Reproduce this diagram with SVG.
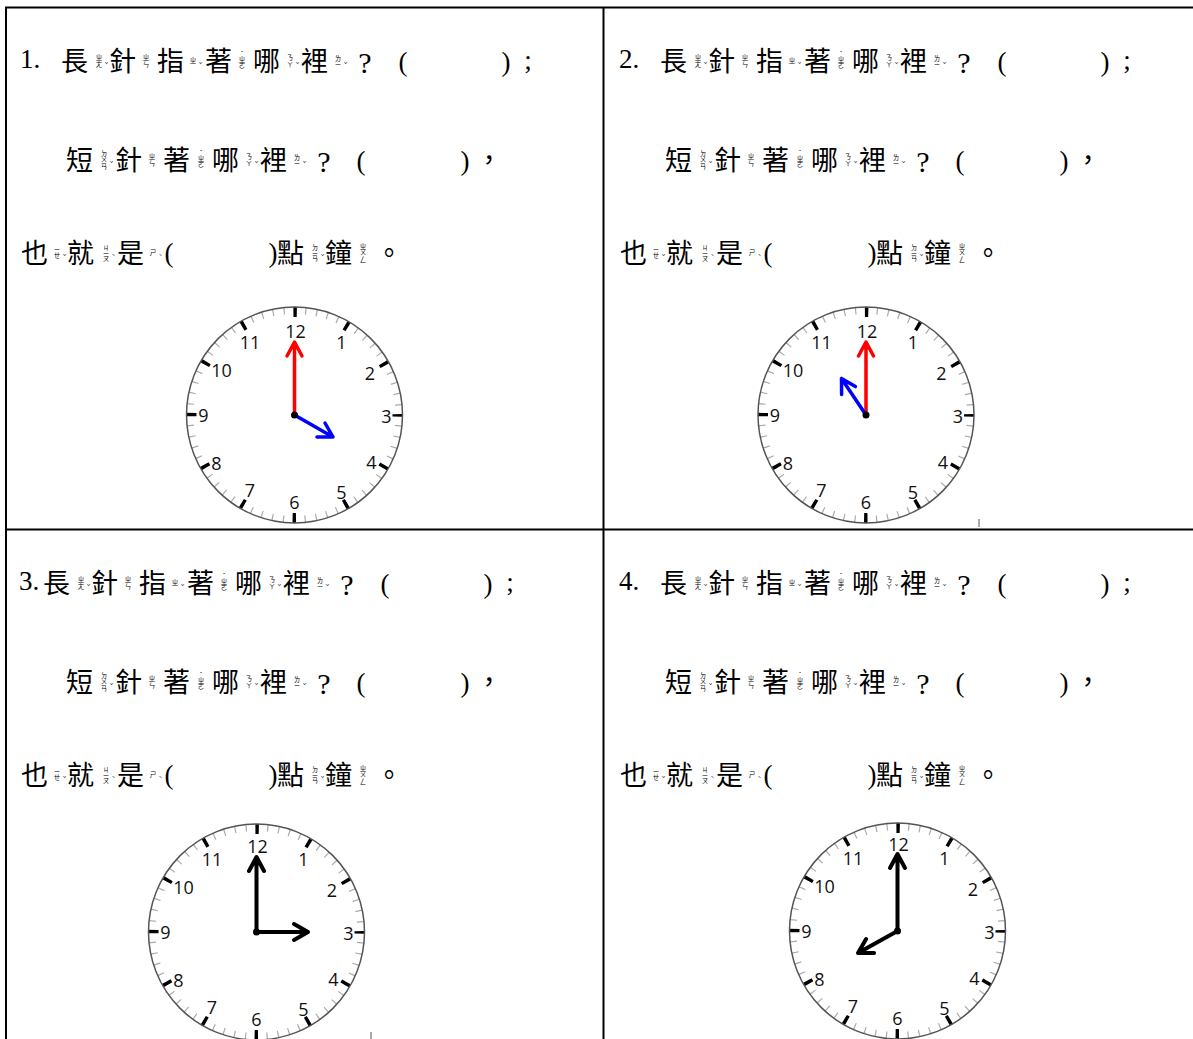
<svg xmlns="http://www.w3.org/2000/svg" xmlns:xlink="http://www.w3.org/1999/xlink" width="1193" height="1039" viewBox="0 0 1193 1039">
<style>
.z{font-family:"Noto Sans CJK TC","Noto Sans CJK SC",sans-serif;font-size:27px;fill:#000}
.v{font-family:"Noto Sans CJK TC","Noto Sans CJK SC",sans-serif;font-size:6.5px;writing-mode:vertical-rl;text-anchor:middle;fill:#000}
.t{font-family:"Noto Sans CJK TC","Noto Sans CJK SC",sans-serif;font-size:6px;text-anchor:middle;fill:#000}
.p{font-family:"Liberation Serif",serif;font-size:27px;text-anchor:middle;fill:#000}
.qm{font-family:"Liberation Serif",serif;font-size:30px;text-anchor:middle;fill:#000}
.f{font-family:"Noto Sans CJK TC","Noto Sans CJK SC",sans-serif;font-size:27px;text-anchor:middle;fill:#000}
.q{font-family:"Liberation Serif",serif;font-size:27px;fill:#000}
.n{font-family:"Open Sans","Noto Sans",sans-serif;font-size:18px;text-anchor:middle;fill:#111}
.grid{stroke:#000;stroke-width:2;fill:none}
.red{stroke:#f00;stroke-width:3.5;fill:none;stroke-linecap:round;stroke-linejoin:round}
.blue{stroke:#00f;stroke-width:3.5;fill:none;stroke-linecap:round;stroke-linejoin:round}
.blk{stroke:#000;stroke-width:4;fill:none;stroke-linecap:round;stroke-linejoin:round}
.mark{stroke:#555;stroke-width:1}
</style>
<defs>
<g id="face">
<circle r="108" fill="#fff"/>
<circle r="104.5" fill="none" stroke="#aaa" stroke-width="7" stroke-dasharray="1.2 9.743" stroke-dashoffset="0.6"/>
<circle r="103" fill="none" stroke="#000" stroke-width="10" stroke-dasharray="3.5 50.43" stroke-dashoffset="1.75"/>
<circle r="108" fill="none" stroke="#555" stroke-width="1.5"/>
</g>
</defs>
<rect width="1193" height="1039" fill="#fff"/>
<g id="grid">
<path class="grid" d="M5 7.5H1193M6 7V1039M603.5 7V1039M5 529.5H1193"/>
<path class="mark" d="M979 519V527M371 1032V1039"/>
</g>

<g id="q1">
<text class="q" x="20" y="68">1.</text>
<text class="z" x="61" y="71">長</text><text class="v" x="99" y="61">ㄓㄤ</text><text class="t" x="106.5" y="67">ˇ</text>
<text class="z" x="109" y="71">針</text><text class="v" x="146" y="61">ㄓㄣ</text>
<text class="z" x="157" y="71">指</text><text class="v" x="193" y="61">ㄓ</text><text class="t" x="200.5" y="67">ˇ</text>
<text class="z" x="205" y="71">著</text><text class="t" x="242" y="54">˙</text><text class="v" x="242" y="62.5">ㄓㄜ</text>
<text class="z" x="253" y="71">哪</text><text class="v" x="290" y="61">ㄋㄚ</text><text class="t" x="297.5" y="67">ˇ</text>
<text class="z" x="301" y="71">裡</text><text class="v" x="338" y="61">ㄌㄧ</text><text class="t" x="345.5" y="67">ˇ</text>
<text class="qm" x="365" y="73">?</text><text class="p" x="403" y="71">(</text><text class="p" x="506" y="71">)</text><text class="p" x="528" y="69">;</text>

<text class="z" x="66" y="170">短</text><text class="v" x="104" y="160">ㄉㄨㄢ</text><text class="t" x="111.5" y="166">ˇ</text>
<text class="z" x="115" y="170">針</text><text class="v" x="152" y="160">ㄓㄣ</text>
<text class="z" x="163" y="170">著</text><text class="t" x="201" y="153">˙</text><text class="v" x="201" y="161.5">ㄓㄜ</text>
<text class="z" x="212" y="170">哪</text><text class="v" x="249" y="160">ㄋㄚ</text><text class="t" x="256.5" y="166">ˇ</text>
<text class="z" x="260" y="170">裡</text><text class="v" x="297" y="160">ㄌㄧ</text><text class="t" x="304.5" y="166">ˇ</text>
<text class="qm" x="324" y="172">?</text><text class="p" x="361" y="170">(</text><text class="p" x="465" y="170">)</text><text class="f" x="489" y="170">，</text>

<text class="z" x="21" y="263">也</text><text class="v" x="57" y="253">ㄧㄝ</text><text class="t" x="64.5" y="259">ˇ</text>
<text class="z" x="67" y="263">就</text><text class="v" x="106" y="253">ㄐㄧㄡ</text><text class="t" x="113.5" y="259">ˋ</text>
<text class="z" x="117" y="263">是</text><text class="v" x="153" y="253">ㄕ</text><text class="t" x="160.5" y="259">ˋ</text>
<text class="p" x="169" y="262">(</text><text class="p" x="273" y="262">)</text>
<text class="z" x="277" y="263">點</text><text class="v" x="315" y="253">ㄉㄧㄢ</text><text class="t" x="322.5" y="259">ˇ</text>
<text class="z" x="325" y="263">鐘</text><text class="v" x="363" y="253">ㄓㄨㄥ</text>
<text class="f" x="389" y="263">。</text>
</g>

<g id="q2" transform="translate(599,0)">
<text class="q" x="20" y="68">2.</text>
<text class="z" x="61" y="71">長</text><text class="v" x="99" y="61">ㄓㄤ</text><text class="t" x="106.5" y="67">ˇ</text>
<text class="z" x="109" y="71">針</text><text class="v" x="146" y="61">ㄓㄣ</text>
<text class="z" x="157" y="71">指</text><text class="v" x="193" y="61">ㄓ</text><text class="t" x="200.5" y="67">ˇ</text>
<text class="z" x="205" y="71">著</text><text class="t" x="242" y="54">˙</text><text class="v" x="242" y="62.5">ㄓㄜ</text>
<text class="z" x="253" y="71">哪</text><text class="v" x="290" y="61">ㄋㄚ</text><text class="t" x="297.5" y="67">ˇ</text>
<text class="z" x="301" y="71">裡</text><text class="v" x="338" y="61">ㄌㄧ</text><text class="t" x="345.5" y="67">ˇ</text>
<text class="qm" x="365" y="73">?</text><text class="p" x="403" y="71">(</text><text class="p" x="506" y="71">)</text><text class="p" x="528" y="69">;</text>

<text class="z" x="66" y="170">短</text><text class="v" x="104" y="160">ㄉㄨㄢ</text><text class="t" x="111.5" y="166">ˇ</text>
<text class="z" x="115" y="170">針</text><text class="v" x="152" y="160">ㄓㄣ</text>
<text class="z" x="163" y="170">著</text><text class="t" x="201" y="153">˙</text><text class="v" x="201" y="161.5">ㄓㄜ</text>
<text class="z" x="212" y="170">哪</text><text class="v" x="249" y="160">ㄋㄚ</text><text class="t" x="256.5" y="166">ˇ</text>
<text class="z" x="260" y="170">裡</text><text class="v" x="297" y="160">ㄌㄧ</text><text class="t" x="304.5" y="166">ˇ</text>
<text class="qm" x="324" y="172">?</text><text class="p" x="361" y="170">(</text><text class="p" x="465" y="170">)</text><text class="f" x="489" y="170">，</text>

<text class="z" x="21" y="263">也</text><text class="v" x="57" y="253">ㄧㄝ</text><text class="t" x="64.5" y="259">ˇ</text>
<text class="z" x="67" y="263">就</text><text class="v" x="106" y="253">ㄐㄧㄡ</text><text class="t" x="113.5" y="259">ˋ</text>
<text class="z" x="117" y="263">是</text><text class="v" x="153" y="253">ㄕ</text><text class="t" x="160.5" y="259">ˋ</text>
<text class="p" x="169" y="262">(</text><text class="p" x="273" y="262">)</text>
<text class="z" x="277" y="263">點</text><text class="v" x="315" y="253">ㄉㄧㄢ</text><text class="t" x="322.5" y="259">ˇ</text>
<text class="z" x="325" y="263">鐘</text><text class="v" x="363" y="253">ㄓㄨㄥ</text>
<text class="f" x="389" y="263">。</text>
</g>

<g id="q3" transform="translate(0,522)">
<text class="q" x="19" y="68">3.</text>
<text class="z" x="43" y="71">長</text><text class="v" x="81" y="61">ㄓㄤ</text><text class="t" x="88.5" y="67">ˇ</text>
<text class="z" x="91" y="71">針</text><text class="v" x="128" y="61">ㄓㄣ</text>
<text class="z" x="139" y="71">指</text><text class="v" x="175" y="61">ㄓ</text><text class="t" x="182.5" y="67">ˇ</text>
<text class="z" x="187" y="71">著</text><text class="t" x="224" y="54">˙</text><text class="v" x="224" y="62.5">ㄓㄜ</text>
<text class="z" x="235" y="71">哪</text><text class="v" x="272" y="61">ㄋㄚ</text><text class="t" x="279.5" y="67">ˇ</text>
<text class="z" x="283" y="71">裡</text><text class="v" x="320" y="61">ㄌㄧ</text><text class="t" x="327.5" y="67">ˇ</text>
<text class="qm" x="347" y="73">?</text><text class="p" x="385" y="71">(</text><text class="p" x="488" y="71">)</text><text class="p" x="510" y="69">;</text>

<text class="z" x="66" y="170">短</text><text class="v" x="104" y="160">ㄉㄨㄢ</text><text class="t" x="111.5" y="166">ˇ</text>
<text class="z" x="115" y="170">針</text><text class="v" x="152" y="160">ㄓㄣ</text>
<text class="z" x="163" y="170">著</text><text class="t" x="201" y="153">˙</text><text class="v" x="201" y="161.5">ㄓㄜ</text>
<text class="z" x="212" y="170">哪</text><text class="v" x="249" y="160">ㄋㄚ</text><text class="t" x="256.5" y="166">ˇ</text>
<text class="z" x="260" y="170">裡</text><text class="v" x="297" y="160">ㄌㄧ</text><text class="t" x="304.5" y="166">ˇ</text>
<text class="qm" x="324" y="172">?</text><text class="p" x="361" y="170">(</text><text class="p" x="465" y="170">)</text><text class="f" x="489" y="170">，</text>

<text class="z" x="21" y="263">也</text><text class="v" x="57" y="253">ㄧㄝ</text><text class="t" x="64.5" y="259">ˇ</text>
<text class="z" x="67" y="263">就</text><text class="v" x="106" y="253">ㄐㄧㄡ</text><text class="t" x="113.5" y="259">ˋ</text>
<text class="z" x="117" y="263">是</text><text class="v" x="153" y="253">ㄕ</text><text class="t" x="160.5" y="259">ˋ</text>
<text class="p" x="169" y="262">(</text><text class="p" x="273" y="262">)</text>
<text class="z" x="277" y="263">點</text><text class="v" x="315" y="253">ㄉㄧㄢ</text><text class="t" x="322.5" y="259">ˇ</text>
<text class="z" x="325" y="263">鐘</text><text class="v" x="363" y="253">ㄓㄨㄥ</text>
<text class="f" x="389" y="263">。</text>
</g>

<g id="q4" transform="translate(599,522)">
<text class="q" x="20" y="68">4.</text>
<text class="z" x="61" y="71">長</text><text class="v" x="99" y="61">ㄓㄤ</text><text class="t" x="106.5" y="67">ˇ</text>
<text class="z" x="109" y="71">針</text><text class="v" x="146" y="61">ㄓㄣ</text>
<text class="z" x="157" y="71">指</text><text class="v" x="193" y="61">ㄓ</text><text class="t" x="200.5" y="67">ˇ</text>
<text class="z" x="205" y="71">著</text><text class="t" x="242" y="54">˙</text><text class="v" x="242" y="62.5">ㄓㄜ</text>
<text class="z" x="253" y="71">哪</text><text class="v" x="290" y="61">ㄋㄚ</text><text class="t" x="297.5" y="67">ˇ</text>
<text class="z" x="301" y="71">裡</text><text class="v" x="338" y="61">ㄌㄧ</text><text class="t" x="345.5" y="67">ˇ</text>
<text class="qm" x="365" y="73">?</text><text class="p" x="403" y="71">(</text><text class="p" x="506" y="71">)</text><text class="p" x="528" y="69">;</text>

<text class="z" x="66" y="170">短</text><text class="v" x="104" y="160">ㄉㄨㄢ</text><text class="t" x="111.5" y="166">ˇ</text>
<text class="z" x="115" y="170">針</text><text class="v" x="152" y="160">ㄓㄣ</text>
<text class="z" x="163" y="170">著</text><text class="t" x="201" y="153">˙</text><text class="v" x="201" y="161.5">ㄓㄜ</text>
<text class="z" x="212" y="170">哪</text><text class="v" x="249" y="160">ㄋㄚ</text><text class="t" x="256.5" y="166">ˇ</text>
<text class="z" x="260" y="170">裡</text><text class="v" x="297" y="160">ㄌㄧ</text><text class="t" x="304.5" y="166">ˇ</text>
<text class="qm" x="324" y="172">?</text><text class="p" x="361" y="170">(</text><text class="p" x="465" y="170">)</text><text class="f" x="489" y="170">，</text>

<text class="z" x="21" y="263">也</text><text class="v" x="57" y="253">ㄧㄝ</text><text class="t" x="64.5" y="259">ˇ</text>
<text class="z" x="67" y="263">就</text><text class="v" x="106" y="253">ㄐㄧㄡ</text><text class="t" x="113.5" y="259">ˋ</text>
<text class="z" x="117" y="263">是</text><text class="v" x="153" y="253">ㄕ</text><text class="t" x="160.5" y="259">ˋ</text>
<text class="p" x="169" y="262">(</text><text class="p" x="273" y="262">)</text>
<text class="z" x="277" y="263">點</text><text class="v" x="315" y="253">ㄉㄧㄢ</text><text class="t" x="322.5" y="259">ˇ</text>
<text class="z" x="325" y="263">鐘</text><text class="v" x="363" y="253">ㄓㄨㄥ</text>
<text class="f" x="389" y="263">。</text>
</g>

<g id="clock1">
<use xlink:href="#face" x="294.5" y="415"/>
<text class="n" x="295.5" y="337.5">12</text><text class="n" x="341.5" y="348.5">1</text><text class="n" x="370" y="379.5">2</text><text class="n" x="386.5" y="422.5">3</text>
<text class="n" x="371.5" y="468.5">4</text><text class="n" x="341.5" y="498.5">5</text><text class="n" x="294.5" y="508.5">6</text><text class="n" x="250" y="496.5">7</text>
<text class="n" x="216.5" y="469.5">8</text><text class="n" x="203.5" y="421.5">9</text><text class="n" x="221.5" y="376.5">10</text><text class="n" x="250" y="348.5">11</text>
<path class="red" d="M294.5 415V343M287 356L294.5 342L302 356"/>
<path class="blue" d="M294.5 415L333 437M317 437L333 437L325 423"/>
<circle cx="294.5" cy="415" r="3.5"/>
</g>

<g id="clock2">
<use xlink:href="#face" x="866" y="415"/>
<text class="n" x="867" y="337.5">12</text><text class="n" x="913" y="348.5">1</text><text class="n" x="941.5" y="379.5">2</text><text class="n" x="958" y="422.5">3</text>
<text class="n" x="943" y="468.5">4</text><text class="n" x="913" y="498.5">5</text><text class="n" x="866" y="508.5">6</text><text class="n" x="821.5" y="496.5">7</text>
<text class="n" x="788" y="469.5">8</text><text class="n" x="775" y="421.5">9</text><text class="n" x="793" y="376.5">10</text><text class="n" x="821.5" y="348.5">11</text>
<path class="red" d="M866 415V343M858.5 356L866 342L873.5 356"/>
<path class="blue" d="M866 415L841.5 378.5M855.4 386.6L841.5 378.5L841.6 394.6"/>
<circle cx="866" cy="415" r="3.5"/>
</g>

<g id="clock3">
<use xlink:href="#face" x="256.5" y="932"/>
<text class="n" x="257.5" y="852.5">12</text><text class="n" x="303.5" y="865.5">1</text><text class="n" x="332" y="896.5">2</text><text class="n" x="348.5" y="939.5">3</text>
<text class="n" x="333.5" y="985.5">4</text><text class="n" x="303.5" y="1015.5">5</text><text class="n" x="256.5" y="1025.5">6</text><text class="n" x="212" y="1013.5">7</text>
<text class="n" x="178.5" y="986.5">8</text><text class="n" x="165.5" y="938.5">9</text><text class="n" x="183.5" y="893.5">10</text><text class="n" x="212" y="865.5">11</text>
<path class="blk" d="M256.5 932V858M249 871L256.5 857L264 871"/>
<path class="blk" d="M256.5 932H308M294 924L308 932L294 940"/>
<circle cx="256.5" cy="932" r="3.5"/>
</g>

<g id="clock4">
<use xlink:href="#face" x="897.5" y="931"/>
<text class="n" x="898.5" y="851">12</text><text class="n" x="944.5" y="864.5">1</text><text class="n" x="973" y="895.5">2</text><text class="n" x="989.5" y="938.5">3</text>
<text class="n" x="974.5" y="984.5">4</text><text class="n" x="944.5" y="1014.5">5</text><text class="n" x="897.5" y="1024.5">6</text><text class="n" x="853" y="1012.5">7</text>
<text class="n" x="819.5" y="985.5">8</text><text class="n" x="806.5" y="937.5">9</text><text class="n" x="824.5" y="892.5">10</text><text class="n" x="853" y="864.5">11</text>
<path class="blk" d="M897.5 931V855M890 868L897.5 854L905 868"/>
<path class="blk" d="M897.5 931L858 953M874.1 952.9L858 953L866.1 939.1"/>
<circle cx="897.5" cy="931" r="3.5"/>
</g>
</svg>
